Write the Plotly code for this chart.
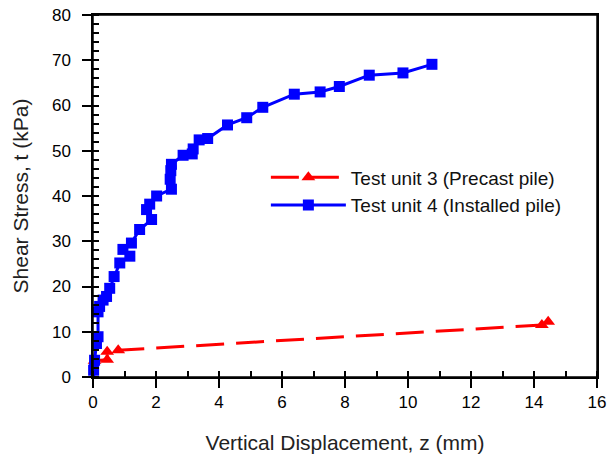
import plotly.graph_objects as go

# Test unit 3 (Precast pile)
u3_x = [-0.05, 0.05, 0.45, 0.45, 0.8, 14.25, 14.45]
u3_y = [1.5, 3.6, 3.8, 5.6, 5.9, 11.5, 12.2]

# Test unit 4 (Installed pile)
u4_x = [0.02, 0.02, 0.05, 0.11, 0.16, 0.16, 0.21, 0.32, 0.43, 0.53, 0.67, 0.85, 1.17, 0.95,
        1.22, 1.48, 1.86, 1.70, 1.80, 2.02, 2.49, 2.45, 2.47, 2.49, 2.86, 3.15, 3.18, 3.37,
        3.64, 4.27, 4.88, 5.39, 6.39, 7.21, 7.82, 8.77, 9.84, 10.76]
u4_y = [-0.5, 1.5, 3.7, 7.4, 8.9, 14.4, 15.6, 17.0, 17.8, 19.6, 22.2, 25.2, 26.7, 28.2,
        29.6, 32.6, 34.8, 37.0, 38.2, 40.0, 41.5, 43.7, 45.6, 47.0, 49.0, 49.3, 50.4, 52.4,
        52.7, 55.7, 57.3, 59.6, 62.5, 63.0, 64.2, 66.7, 67.2, 69.1]

x_ticks = [0, 2, 4, 6, 8, 10, 12, 14, 16]
y_ticks = [0, 10, 20, 30, 40, 50, 60, 70, 80]

FONT = "Liberation Sans, Arial, sans-serif"

fig = go.Figure()
fig.add_trace(go.Scatter(
    x=u3_x, y=u3_y, mode="lines+markers", name="Test unit 3 (Precast pile)",
    line=dict(color="#ff0000", width=3, dash="28px,12px"),
    marker=dict(symbol="triangle-up", size=12, color="#ff0000"),
    cliponaxis=False,
))
fig.add_trace(go.Scatter(
    x=u4_x, y=u4_y, mode="lines+markers", name="Test unit 4 (Installed pile)",
    line=dict(color="#0000ff", width=3),
    marker=dict(symbol="square", size=11, color="#0000ff"),
    cliponaxis=False,
))

# plot frame
fig.add_shape(type="rect", xref="x domain", yref="y domain", x0=0, x1=1, y0=0, y1=1,
              line=dict(color="black", width=1.5), layer="above")

fig.update_layout(
    width=608, height=461,
    margin=dict(l=93, r=11, t=15, b=84),
    paper_bgcolor="white", plot_bgcolor="white",
    font=dict(family=FONT, size=17, color="black"),
    showlegend=True,
    legend=dict(x=0.343, y=0.604, xanchor="left", yanchor="top",
                bgcolor="rgba(0,0,0,0)", font=dict(size=19, color="#111"),
                itemwidth=75, tracegroupgap=0),
    xaxis=dict(range=[0, 16], tickvals=x_ticks, ticktext=[str(v) for v in x_ticks],
               ticks="outside", ticklen=9, tickwidth=1.5, tickcolor="black",
               minor=dict(dtick=1, ticks="inside", ticklen=6, tickwidth=1.5, tickcolor="black", showgrid=False),
               showline=True, linecolor="black", linewidth=1.5, mirror=True,
               showgrid=False, zeroline=False, automargin=False,
               tickfont=dict(size=17),
               title=dict(text="Vertical Displacement, z (mm)", font=dict(size=21, color="#222"), standoff=24)),
    yaxis=dict(range=[0, 80], tickvals=y_ticks, ticktext=[str(v) for v in y_ticks],
               ticks="outside", ticklen=9, tickwidth=1.5, tickcolor="black",
               ticklabelstandoff=8,
               minor=dict(dtick=2, ticks="inside", ticklen=6, tickwidth=1.5, tickcolor="black", showgrid=False),
               showline=True, linecolor="black", linewidth=1.5, mirror=True,
               showgrid=False, zeroline=False, automargin=False,
               tickfont=dict(size=17),
               title=dict(text="Shear Stress, t (kPa)", font=dict(size=21, color="#222"), standoff=18)),
)

fig.write_html("out.html", config={"displayModeBar": False},
               post_script="document.body.style.margin='0';document.body.style.overflow='hidden';")
